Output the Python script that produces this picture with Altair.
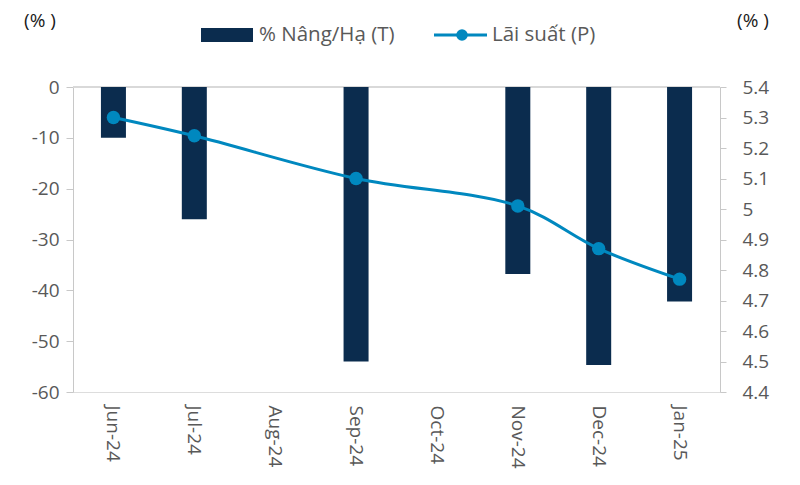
import altair as alt
import pandas as pd

months = ["Jun-24", "Jul-24", "Aug-24", "Sep-24", "Oct-24", "Nov-24", "Dec-24", "Jan-25"]
bar_months = ["Jun-24", "Jul-24", "Sep-24", "Nov-24", "Dec-24", "Jan-25"]
pct_change = [-10.0, -26.0, -54.0, -36.8, -54.7, -42.2]
rate = [5.30, 5.24, 5.10, 5.01, 4.87, 4.77]

NAVY = "#0B2C4E"
BLUE = "#0088BF"
GRAY = "#595959"
AXIS = "#C8C8C8"
FONT = "Open Sans"
FS = 19

df = pd.DataFrame({"month": bar_months, "pct": pct_change, "rate": rate})

xscale = alt.Scale(domain=months, paddingInner=0, paddingOuter=0)
xaxis = alt.Axis(labelAngle=90, labelAlign="left", labelBaseline="middle", labelPadding=13,
                 ticks=False, domain=False, grid=False, title=None,
                 labelFontSize=FS, labelColor=GRAY, labelFont=FONT)
X = alt.X("month:N", scale=xscale, axis=xaxis, sort=months)

base = alt.Chart(df)

bars = base.mark_bar(color=NAVY, size=25).encode(
    x=X,
    y=alt.Y("pct:Q", scale=alt.Scale(domain=[-60, 0], nice=False),
            axis=alt.Axis(values=[0, -10, -20, -30, -40, -50, -60], title=None, grid=False,
                          labelExpr="datum.value + ''",
                          domainColor=AXIS, tickColor=AXIS, tickSize=7, labelPadding=7,
                          labelFontSize=FS, labelColor=GRAY, labelFont=FONT, orient="left")),
)
zero = base.mark_rule(color="#D9D9D9", strokeWidth=1.5).encode(y=alt.datum(0))
left = alt.layer(zero, bars)

rscale = alt.Scale(domain=[4.4, 5.4], nice=False, zero=False)
raxis = alt.Axis(values=[4.4, 4.5, 4.6, 4.7, 4.8, 4.9, 5.0, 5.1, 5.2, 5.3, 5.4], format="~g",
                 title=None, grid=False, orient="right", domainColor=AXIS, tickColor=AXIS,
                 tickSize=6, labelPadding=16, labelFontSize=FS, labelColor=GRAY, labelFont=FONT)
line = base.mark_line(color=BLUE, strokeWidth=3, interpolate="catmull-rom").encode(
    x=X, y=alt.Y("rate:Q", scale=rscale, axis=raxis),
)
pts = base.mark_circle(color=BLUE, size=180, opacity=1).encode(
    x=X, y=alt.Y("rate:Q", scale=rscale, axis=raxis),
)
right = alt.layer(line, pts)

one = alt.Chart(pd.DataFrame({"a": [0]}))
unit_l = one.mark_text(text="(% )", font=FONT, fontSize=19, color="#1A1A1A").encode(
    x=alt.value(-33), y=alt.value(-66))
unit_r = one.mark_text(text="(% )", font=FONT, fontSize=19, color="#1A1A1A").encode(
    x=alt.value(680), y=alt.value(-66))
leg_rect = one.mark_rect(color=NAVY).encode(
    x=alt.value(128), x2=alt.value(180), y=alt.value(-59), y2=alt.value(-45))
leg_t1 = one.mark_text(text="% Nâng/Hạ (T)", font=FONT, fontSize=20.5, color=GRAY, align="left",
                       baseline="middle").encode(x=alt.value(186), y=alt.value(-52))
leg_line = one.mark_rule(color=BLUE, strokeWidth=3).encode(
    x=alt.value(361), x2=alt.value(414), y=alt.value(-52))
leg_pt = one.mark_circle(color=BLUE, size=135, opacity=1).encode(
    x=alt.value(389), y=alt.value(-52))
leg_t2 = one.mark_text(text="Lãi suất (P)", font=FONT, fontSize=20.5, color=GRAY, align="left",
                       baseline="middle").encode(x=alt.value(419), y=alt.value(-52))
deco = alt.layer(unit_l, unit_r, leg_rect, leg_t1, leg_line, leg_pt, leg_t2)

chart = alt.layer(left, right, deco).resolve_scale(y="independent").properties(
    width=647, height=305,
    autosize=alt.AutoSizeParams(type="none"),
    padding={"left": 65, "top": 79, "right": 72, "bottom": 85},
).configure_view(stroke=None).configure(background="white")

chart.save("out.html", embed_options={"renderer": "svg", "actions": False})
